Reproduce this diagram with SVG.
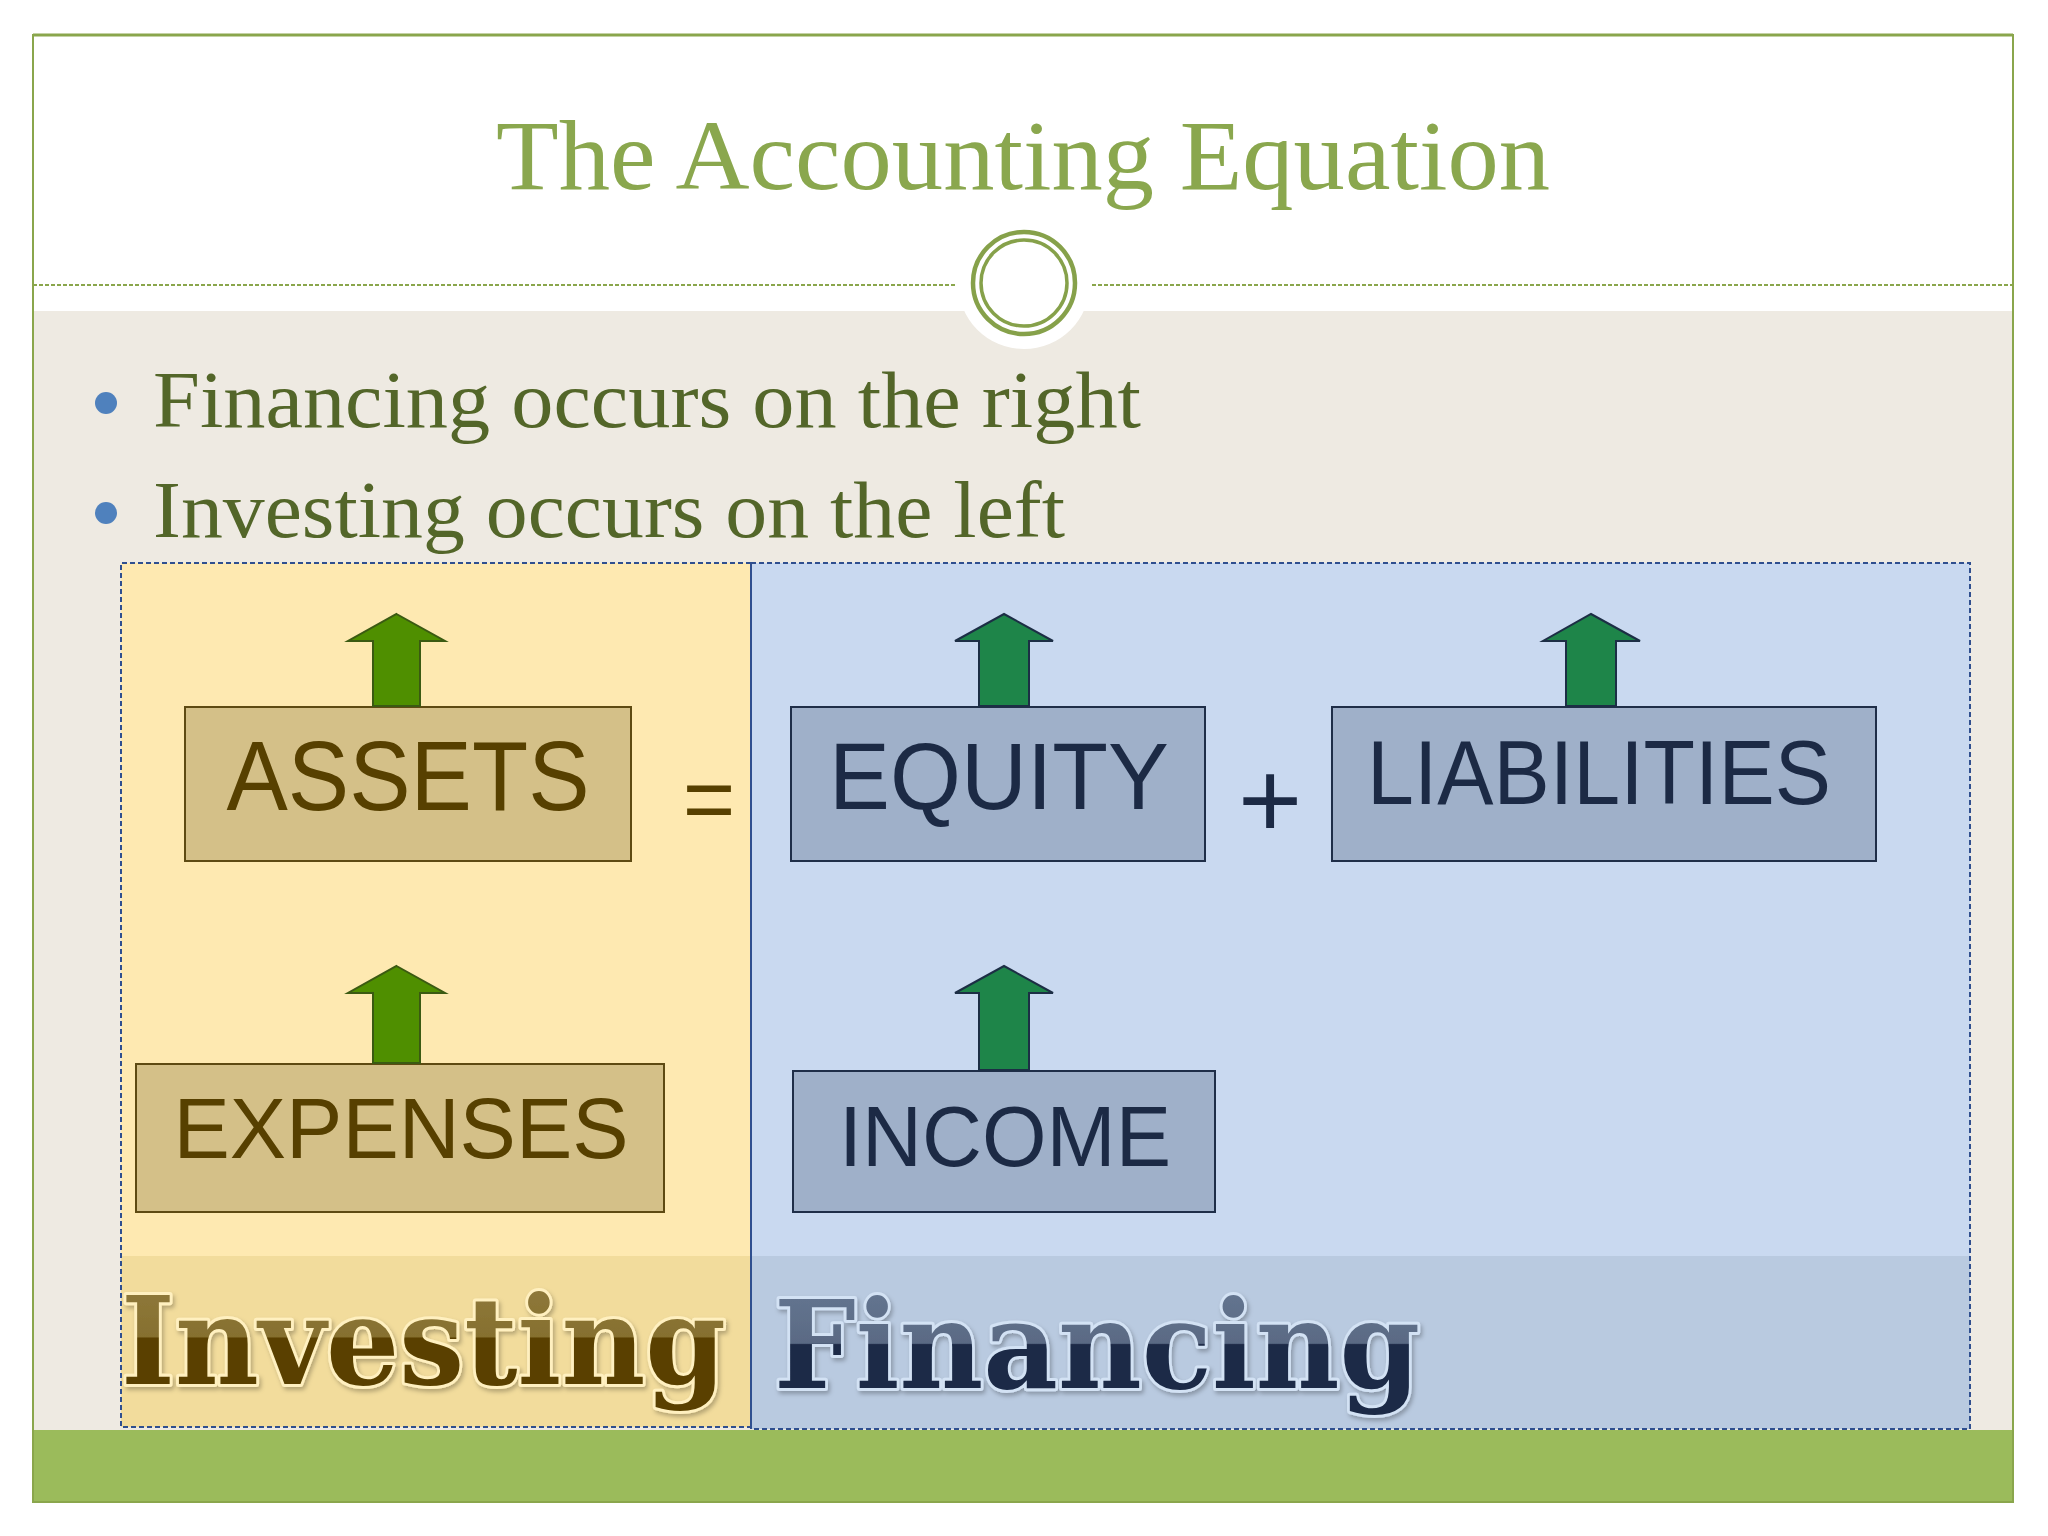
<svg xmlns="http://www.w3.org/2000/svg" width="2048" height="1536" viewBox="0 0 2048 1536">
<style>
.title{font-family:"Liberation Serif","DejaVu Serif",serif;font-size:100px;fill:#8aa74e}
.bullet{font-family:"Liberation Serif","DejaVu Serif",serif;font-size:80px;fill:#536629}
.lbox{fill:#d4c088;stroke:#5e4a12;stroke-width:2}
.rbox{fill:#9fb0c9;stroke:#1f2e48;stroke-width:2}
.ltxt{font-family:"Liberation Sans",Arial,sans-serif;fill:#574000;text-anchor:middle}
.rtxt{font-family:"Liberation Sans",Arial,sans-serif;fill:#1c2a45;text-anchor:middle}
.larrow{fill:#4f8f00;stroke:#3b5a12;stroke-width:2}
.rarrow{fill:#1e8549;stroke:#1c2e45;stroke-width:2}
.big{font-family:"DejaVu Serif","Liberation Serif",serif;font-weight:bold;font-size:122px;stroke-width:6;paint-order:stroke;stroke-linejoin:round}
.dash{stroke:#2f4f8f;stroke-width:2;stroke-dasharray:5 3;fill:none}
</style>
<defs>
<linearGradient id="gInv" gradientUnits="userSpaceOnUse" x1="0" y1="1290" x2="0" y2="1420">
<stop offset="0" stop-color="#8e783a"/><stop offset="0.36" stop-color="#86702f"/><stop offset="0.37" stop-color="#5a4100"/><stop offset="1" stop-color="#5a4100"/>
</linearGradient>
<linearGradient id="gFin" gradientUnits="userSpaceOnUse" x1="0" y1="1290" x2="0" y2="1420">
<stop offset="0" stop-color="#647590"/><stop offset="0.41" stop-color="#5a6a84"/><stop offset="0.42" stop-color="#1b2a46"/><stop offset="1" stop-color="#1b2a46"/>
</linearGradient>
<filter id="sh" x="-5%" y="-10%" width="110%" height="130%">
<feDropShadow dx="2" dy="3" stdDeviation="2" flood-color="#000" flood-opacity="0.25"/>
</filter>
</defs>

<g id="slide">
<rect x="0" y="0" width="2048" height="1536" fill="#ffffff"/>
<rect x="33" y="311" width="1980" height="1119" fill="#eeeae2"/>
<rect x="33" y="1430" width="1980" height="72" fill="#9bbb5b"/>
<rect x="33" y="35" width="1980" height="1467" fill="none" stroke="#8aa64c" stroke-width="2"/>
<line x1="33" y1="35" x2="2013" y2="35" stroke="#8aa64c" stroke-width="3"/>
<line x1="33" y1="285" x2="955" y2="285" stroke="#8aa64c" stroke-width="2" stroke-dasharray="4 2"/>
<line x1="1092" y1="285" x2="2013" y2="285" stroke="#8aa64c" stroke-width="2" stroke-dasharray="4 2"/>
<circle cx="1024" cy="283" r="66" fill="#ffffff"/>
<circle cx="1024" cy="283" r="51" fill="none" stroke="#86a14a" stroke-width="4.5"/>
<circle cx="1024" cy="283" r="43" fill="none" stroke="#86a14a" stroke-width="3.5"/>
</g>

<g id="title">
<text class="title" x="496" y="189" textLength="1054" lengthAdjust="spacingAndGlyphs">The Accounting Equation</text>
</g>

<g id="bullets">
<circle cx="106" cy="403" r="11" fill="#4f81bd"/>
<text class="bullet" x="153" y="427" textLength="988" lengthAdjust="spacingAndGlyphs">Financing occurs on the right</text>
<circle cx="106" cy="513" r="11" fill="#4f81bd"/>
<text class="bullet" x="153" y="537" textLength="912" lengthAdjust="spacingAndGlyphs">Investing occurs on the left</text>
</g>

<g id="investing-panel">
<rect x="121" y="563" width="630" height="864" fill="#fee9b1"/>
<rect x="121" y="1256" width="630" height="171" fill="#f2dc9c"/>
<path class="dash" d="M751 563 H121 V1427 H751"/>
<line x1="751" y1="563" x2="751" y2="1429" stroke="#2f4f8f" stroke-width="2"/>
</g>

<g id="financing-panel">
<rect x="752" y="563" width="1218" height="866" fill="#c9d9f0"/>
<rect x="752" y="1256" width="1218" height="173" fill="#b9cae0"/>
<path class="dash" d="M751 563 H1970 V1429 H751"/>
</g>

<g id="assets">
<rect class="lbox" x="185" y="707" width="446" height="154"/>
<text class="ltxt" x="408" y="810" font-size="98" textLength="363" lengthAdjust="spacingAndGlyphs">ASSETS</text>
</g>

<g id="equals">
<text class="ltxt" x="709" y="830" font-size="90">=</text>
</g>

<g id="equity">
<rect class="rbox" x="791" y="707" width="414" height="154"/>
<text class="rtxt" x="999" y="809" font-size="95" textLength="340" lengthAdjust="spacingAndGlyphs">EQUITY</text>
</g>

<g id="plus">
<text class="rtxt" x="1270" y="838" font-size="110">+</text>
</g>

<g id="liabilities">
<rect class="rbox" x="1332" y="707" width="544" height="154"/>
<text class="rtxt" x="1599" y="804" font-size="90" textLength="464" lengthAdjust="spacingAndGlyphs">LIABILITIES</text>
</g>

<g id="expenses">
<rect class="lbox" x="136" y="1064" width="528" height="148"/>
<text class="ltxt" x="401" y="1158" font-size="85" textLength="455" lengthAdjust="spacingAndGlyphs">EXPENSES</text>
</g>

<g id="income">
<rect class="rbox" x="793" y="1071" width="422" height="141"/>
<text class="rtxt" x="1005" y="1166" font-size="85" textLength="332" lengthAdjust="spacingAndGlyphs">INCOME</text>
</g>

<g id="connectors">
<path class="larrow" d="M396.5 614 L445 641 L420 641 L420 706 L373 706 L373 641 L348 641 Z"/>
<path class="larrow" d="M396.5 966 L445 993 L420 993 L420 1063 L373 1063 L373 993 L348 993 Z"/>
<path class="rarrow" d="M1004 614 L1053 641 L1029 641 L1029 706 L979 706 L979 641 L955 641 Z"/>
<path class="rarrow" d="M1591 614 L1640 641 L1616 641 L1616 706 L1566 706 L1566 641 L1543 641 Z"/>
<path class="rarrow" d="M1004 966 L1053 993 L1029 993 L1029 1070 L979 1070 L979 993 L955 993 Z"/>
</g>

<g id="investing-label">
<text class="big" x="121" y="1384" fill="url(#gInv)" stroke="#fff0c0" filter="url(#sh)" textLength="605" lengthAdjust="spacingAndGlyphs">Investing</text>
</g>

<g id="financing-label">
<text class="big" x="774" y="1388" fill="url(#gFin)" stroke="#d3e2f4" filter="url(#sh)" textLength="646" lengthAdjust="spacingAndGlyphs">Financing</text>
</g>
</svg>
